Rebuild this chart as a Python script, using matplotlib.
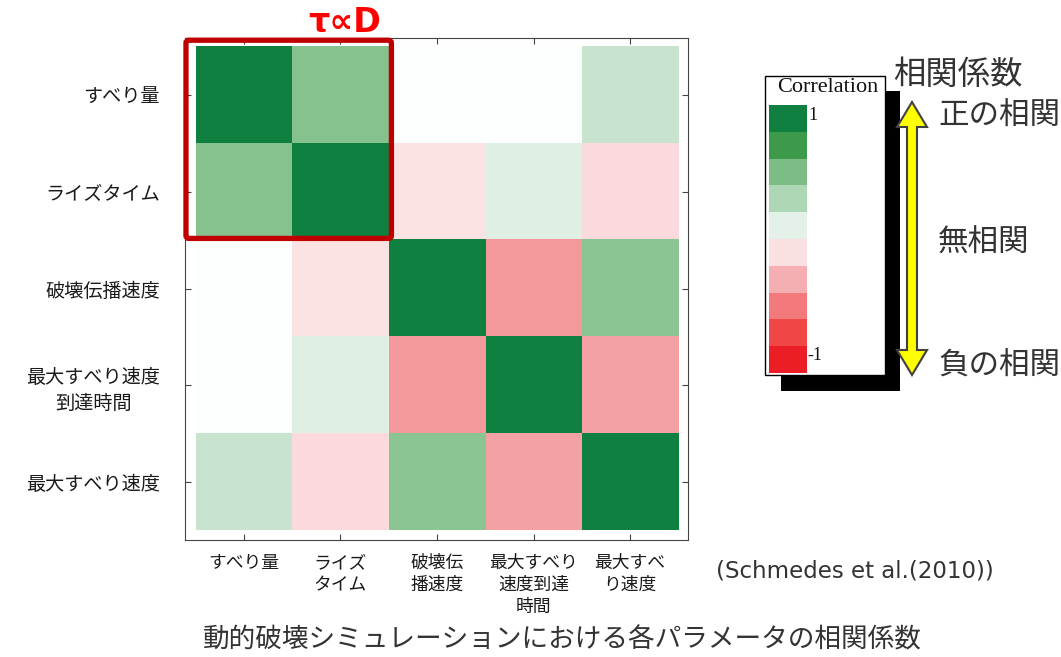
import numpy as np
import matplotlib
matplotlib.use("Agg")
import matplotlib.pyplot as plt
from matplotlib.colors import LinearSegmentedColormap, ListedColormap
from matplotlib.patches import Rectangle, Polygon, FancyBboxPatch

plt.rcParams['font.family'] = ['Noto Sans CJK JP', 'DejaVu Sans']

# ---------------- data ----------------
params_y = ["すべり量", "ライズタイム", "破壊伝播速度", "最大すべり速度\n到達時間", "最大すべり速度"]
params_x = ["すべり量", "ライズ\nタイム", "破壊伝\n播速度", "最大すべり\n速度到達\n時間", "最大すべ\nり速度"]
corr = np.array([
    [1.00, 0.46, 0.00, 0.00, 0.20],
    [0.46, 1.00, -0.09, 0.11, -0.12],
    [0.00, -0.09, 1.00, -0.38, 0.43],
    [0.00, 0.11, -0.38, 1.00, -0.35],
    [0.20, -0.12, 0.43, -0.35, 1.00],
])
# colour levels of the legend, from +1 (top) down to -1 (bottom)
level_colors = ['#0F8040', '#3E9A4B', '#7BBD85', '#AED8B5', '#E3F1E8',
                '#FBE0E2', '#F5AEB1', '#F27A7C', '#F04646', '#EB1E25']
level_values = np.linspace(0.9, -0.9, 10)
cbar_ticks = ["1", "-1"]

# ---------------- colormap ----------------
nodes = [(-1.0, '#EB1E25'), (-0.7, '#F04646'), (-0.5, '#F27A7C'), (-0.3, '#F5AEB1'),
         (-0.1, '#FBE0E2'), (0.0, '#FFFFFF'), (0.1, '#E3F1E8'), (0.3, '#AED8B5'),
         (0.5, '#7BBD85'), (0.7, '#3E9A4B'), (1.0, '#0F8040')]
cmap = LinearSegmentedColormap.from_list('corr', [((v + 1) / 2, c) for v, c in nodes])

W, H = 1061, 657
fig = plt.figure(figsize=(W / 100, H / 100), dpi=100)

def px_axes(x0, y0, x1, y1, **kw):
    return fig.add_axes([x0 / W, 1 - y1 / H, (x1 - x0) / W, (y1 - y0) / H], **kw)

# ---------------- heatmap ----------------
ax = px_axes(185, 38, 688, 540)
n = corr.shape[0]
ax.imshow(corr, cmap=cmap, vmin=-1, vmax=1, aspect='auto', interpolation='nearest',
          extent=(-0.5, n - 0.5, n - 0.5, -0.5))
ax.set_xlim(-0.61, n - 0.4)
ax.set_ylim(n - 0.4, -0.59)
ax.set_xticks(range(n))
ax.set_yticks(range(n))
ax.set_xticklabels(params_x, fontsize=12.8, color='#1a1a1a', linespacing=1.3,
                   multialignment='center')
ax.set_yticklabels(params_y, fontsize=13.8, color='#1a1a1a', linespacing=1.3,
                   multialignment='center')
ax.tick_params(direction='in', length=4, width=0.8, color='#444444',
               top=True, right=True, bottom=True, left=True)
ax.tick_params(axis='x', pad=10)
ax.tick_params(axis='y', pad=18)
for s in ax.spines.values():
    s.set_color('#444444')
    s.set_linewidth(0.8)

# red highlight box
rect = FancyBboxPatch((-0.60, -0.567), 2.128, 2.049,
                      boxstyle="round,pad=0,rounding_size=0.03",
                      fill=False, edgecolor='#C00000', linewidth=3.8,
                      clip_on=False, zorder=5)
ax.add_patch(rect)

# ---------------- overlay (pixel coordinates) ----------------
ov = fig.add_axes([0, 0, 1, 1], zorder=3)
ov.set_xlim(0, W)
ov.set_ylim(H, 0)
ov.axis('off')
ov.patch.set_alpha(0)

ov.text(345, 23, "τ∝D", color='#FF0000', fontsize=24, fontweight='bold',
        ha='center', va='center', family=['DejaVu Sans'])

# legend box with shadow
ov.add_patch(Rectangle((781, 91), 119, 300, facecolor='black', edgecolor='none'))
ov.add_patch(Rectangle((765, 76), 120, 299, facecolor='white', edgecolor='black', linewidth=1))
ov.text(828, 88, "Correlation", fontsize=16, family=['Liberation Serif'],
        ha='center', va='center', color='#111111')
ov.text(808, 115, cbar_ticks[0], fontsize=13, family=['Liberation Serif'],
        ha='left', va='center', color='#111111')
ov.text(807, 355, cbar_ticks[1], fontsize=13, family=['Liberation Serif'],
        ha='left', va='center', color='#111111')

# yellow double arrow
arrow = [(912, 102), (927, 127), (917, 127), (917, 350), (927, 350), (912, 375),
         (897, 350), (907, 350), (907, 127), (897, 127)]
ov.add_patch(Polygon(arrow, closed=True, facecolor='#FFFF00', edgecolor='#404040',
                     linewidth=1.5, zorder=4))

txt_col = '#333333'
ov.text(893, 75, "相関係数", fontsize=23.3, ha='left', va='center', color=txt_col)
ov.text(938, 116, "正の相関", fontsize=22, ha='left', va='center', color=txt_col)
ov.text(938, 243, "無相関", fontsize=22, ha='left', va='center', color=txt_col)
ov.text(938, 366, "負の相関", fontsize=22, ha='left', va='center', color=txt_col)

ov.text(716, 571, "(Schmedes et al.(2010))", fontsize=16.5, ha='left', va='center',
        color=txt_col, family=['DejaVu Sans'])
ov.text(562, 640, "動的破壊シミュレーションにおける各パラメータの相関係数", fontsize=19.2,
        ha='center', va='center', color=txt_col)

# colorbar swatches (colormap list runs from low to high values)
cax = px_axes(769, 105, 807, 373, zorder=5)
cax.imshow(level_values.reshape(-1, 1), cmap=ListedColormap(level_colors[::-1]),
           vmin=-1, vmax=1, aspect='auto', interpolation='nearest')
cax.axis('off')

fig.savefig("out.png", dpi=100)
